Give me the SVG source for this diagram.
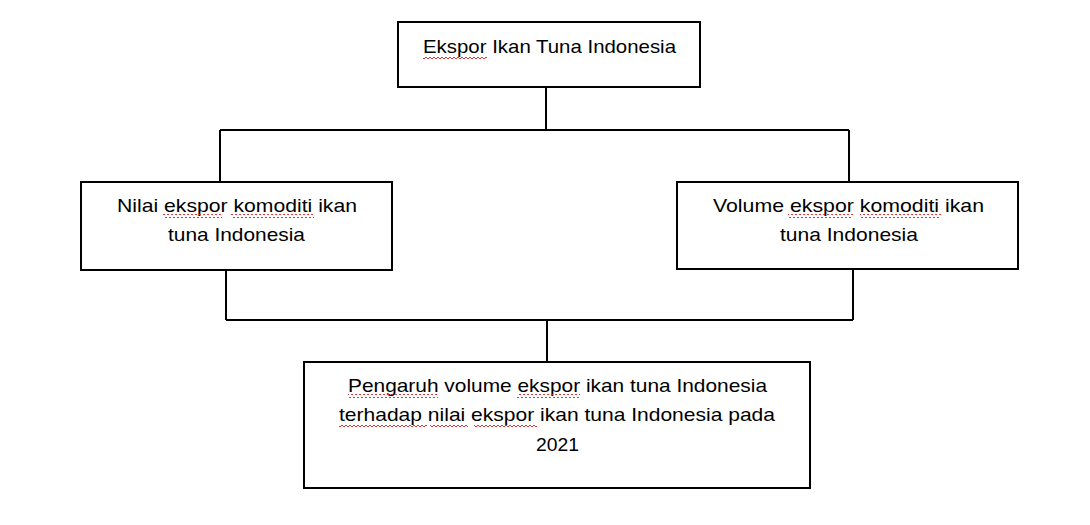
<svg xmlns="http://www.w3.org/2000/svg" width="1090" height="525" viewBox="0 0 1090 525">
<defs>
<pattern id="sq" x="0" y="0" width="4" height="4" patternUnits="userSpaceOnUse">
<path d="M0,3 L2,1 L4,3" fill="none" stroke="#e02020" stroke-width="0.9"/>
</pattern>
<style>
.box{fill:#fff;stroke:#000;stroke-width:2}
.ln{fill:none;stroke:#000;stroke-width:2}
.t{font-family:"Liberation Sans","Open Sans",sans-serif;font-size:19px;fill:#000;text-anchor:middle}
.s{fill:url(#sq)}
</style>
</defs>
<rect width="1090" height="525" fill="#fff"/>
<g id="connectors">
<path class="ln" d="M546,87 V130 M220,130 H849 M220,130 V182 M849,130 V182"/>
<path class="ln" d="M226,270 V320 M853,269 V320 M226,320 H853 M547,320 V362"/>
</g>
<g id="node-top">
<rect class="box" x="398" y="22" width="302" height="65"/>
<text class="t" x="549.5" y="53" textLength="253" lengthAdjust="spacingAndGlyphs">Ekspor Ikan Tuna Indonesia</text>
<rect class="s" x="423" y="55" width="64" height="4"/>
</g>
<g id="node-left">
<rect class="box" x="81" y="182" width="311" height="88"/>
<text class="t" x="237" y="212" textLength="240" lengthAdjust="spacingAndGlyphs">Nilai ekspor komoditi ikan</text>
<text class="t" x="236.5" y="241" textLength="137" lengthAdjust="spacingAndGlyphs">tuna Indonesia</text>
<rect class="s" x="163" y="214" width="59" height="4"/>
<rect class="s" x="231" y="214" width="83" height="4"/>
</g>
<g id="node-right">
<rect class="box" x="677" y="182" width="341" height="87"/>
<text class="t" x="848.5" y="212" textLength="271" lengthAdjust="spacingAndGlyphs">Volume ekspor komoditi ikan</text>
<text class="t" x="849" y="241" textLength="138" lengthAdjust="spacingAndGlyphs">tuna Indonesia</text>
<rect class="s" x="788" y="214" width="65" height="4"/>
<rect class="s" x="860" y="214" width="81" height="4"/>
</g>
<g id="node-bottom">
<rect class="box" x="304" y="362" width="506" height="126"/>
<text class="t" x="557.5" y="392" textLength="419" lengthAdjust="spacingAndGlyphs">Pengaruh volume ekspor ikan tuna Indonesia</text>
<text class="t" x="557" y="421" textLength="436" lengthAdjust="spacingAndGlyphs">terhadap nilai ekspor ikan tuna Indonesia pada</text>
<text class="t" x="557.5" y="451" textLength="43" lengthAdjust="spacingAndGlyphs">2021</text>
<rect class="s" x="348" y="394" width="90" height="4"/>
<rect class="s" x="517" y="394" width="63" height="4"/>
<rect class="s" x="339" y="423" width="88" height="4"/>
<rect class="s" x="430" y="423" width="38" height="4"/>
<rect class="s" x="474" y="423" width="63" height="4"/>
</g>
</svg>
